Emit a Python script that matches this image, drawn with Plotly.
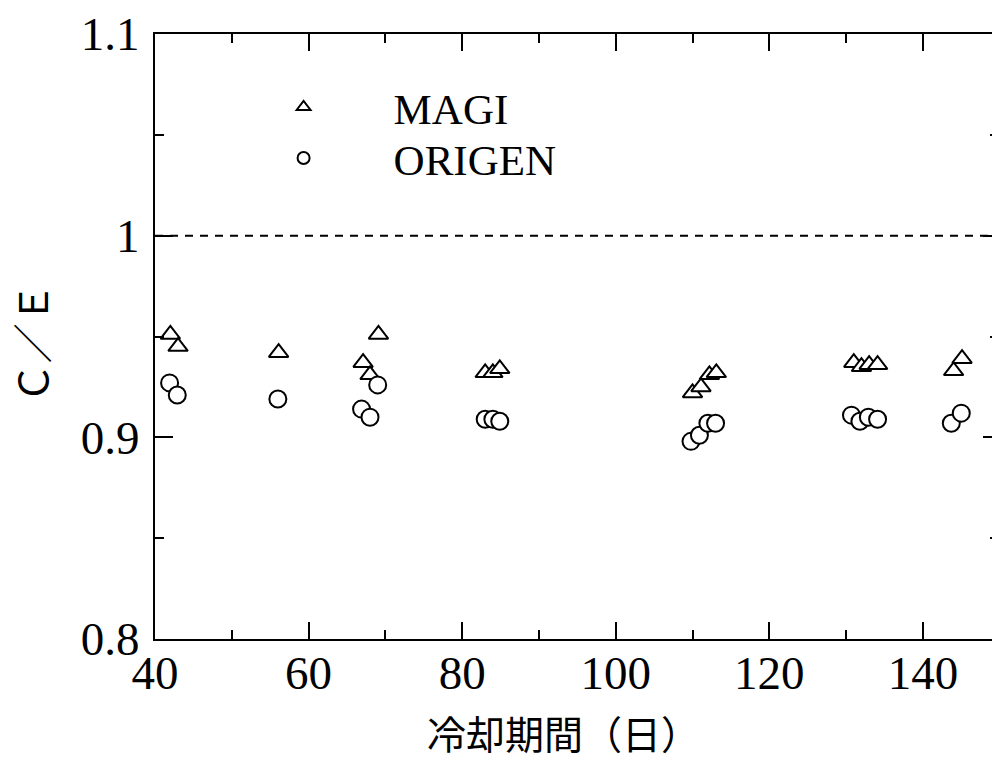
import plotly.graph_objects as go

# ---- data ----
magi_x = [42.0, 43.0, 56.1, 67.1, 68.0, 69.1, 83.0, 84.0, 84.9,
          110.0, 111.1, 112.2, 113.1, 131.0, 132.0, 133.0, 134.1, 144.0, 145.1]
magi_y = [0.951, 0.945, 0.942, 0.937, 0.931, 0.951, 0.932, 0.932, 0.934,
          0.922, 0.925, 0.931, 0.932, 0.937, 0.935, 0.936, 0.936, 0.933, 0.939]

origen_x = [41.9, 42.9, 56.0, 66.9, 68.0, 69.0, 83.0, 84.0, 84.9,
            109.8, 110.9, 112.0, 113.0, 130.7, 131.8, 132.9, 134.1, 143.7, 145.0]
origen_y = [0.927, 0.921, 0.919, 0.914, 0.910, 0.926, 0.909, 0.909, 0.908,
            0.898, 0.901, 0.907, 0.907, 0.911, 0.908, 0.910, 0.909, 0.907, 0.912]

series_names = ["MAGI", "ORIGEN"]
ref_value = 1.0
x_range = [40, 149.0]
y_range = [0.8, 1.1]
x_title = "冷却期間（日）"
y_title = "Ｃ／Ｅ"

serif = "Times New Roman, Liberation Serif, serif"
cjk = "Noto Sans CJK JP"

fig = go.Figure()
fig.add_trace(go.Scatter(
    x=magi_x, y=magi_y, mode="markers", name=series_names[0], legend="legend",
    marker=dict(symbol="triangle-up", size=17, color="white",
                line=dict(color="black", width=2)),
))
fig.add_trace(go.Scatter(
    x=origen_x, y=origen_y, mode="markers", name=series_names[1], legend="legend2",
    marker=dict(symbol="circle", size=17, color="white",
                line=dict(color="black", width=2)),
))
# helper trace for the right-hand tick stubs
fig.add_trace(go.Scatter(x=[], y=[], yaxis="y2", showlegend=False))

fig.add_shape(type="line", xref="paper", x0=0, x1=1, yref="y",
              y0=ref_value, y1=ref_value,
              line=dict(color="black", width=2, dash="8px,7px"))

fig.add_annotation(text=x_title, xref="paper", yref="paper",
                   x=0.4875, y=-0.1537, xanchor="center", yanchor="middle",
                   showarrow=False, font=dict(family=cjk, size=39, color="black"))
fig.add_annotation(text=y_title, xref="paper", yref="paper", textangle=-90,
                   x=-0.148, y=0.489, xanchor="center", yanchor="middle",
                   showarrow=False, font=dict(family=cjk, size=40, color="black"))

legend_common = dict(xanchor="left", yanchor="middle", bgcolor="rgba(0,0,0,0)",
                     itemsizing="constant", itemwidth=170,
                     font=dict(family=serif, size=43, color="black"))

tick_font = dict(family=serif, size=47, color="black")

fig.update_layout(
    width=992, height=760,
    margin=dict(l=155, r=0, t=34, b=121, pad=0),
    paper_bgcolor="white", plot_bgcolor="white",
    font=dict(family=serif, color="black"),
    showlegend=True,
    legend=dict(x=0.07, y=(639 - 107) / 605, **legend_common),
    legend2=dict(x=0.07, y=(639 - 158) / 605, **legend_common),
    xaxis=dict(range=x_range, dtick=20, tick0=40, showgrid=False, zeroline=False,
               showline=True, linecolor="black", linewidth=2, mirror="ticks",
               ticks="inside", ticklen=17, tickwidth=2, tickcolor="black",
               ticklabelstandoff=-8,
               minor=dict(dtick=10, ticks="inside", ticklen=9, tickwidth=2,
                          tickcolor="black", showgrid=False),
               tickfont=tick_font),
    yaxis=dict(range=y_range, dtick=0.1, tick0=0.8, showgrid=False, zeroline=False,
               showline=True, linecolor="black", linewidth=2, mirror=False,
               ticks="inside", ticklen=18, tickwidth=2, tickcolor="black",
               ticklabelstandoff=4,
               minor=dict(dtick=0.05, ticks="inside", ticklen=9, tickwidth=2,
                          tickcolor="black", showgrid=False),
               tickfont=tick_font),
    yaxis2=dict(range=y_range, overlaying="y", side="right", dtick=0.1, tick0=0.8,
                showgrid=False, zeroline=False, showline=False, showticklabels=False,
                ticks="inside", ticklen=9, tickwidth=2, tickcolor="black",
                minor=dict(dtick=0.05, ticks="inside", ticklen=2, tickwidth=2,
                           tickcolor="black", showgrid=False)),
)

fig.write_html("out.html")
